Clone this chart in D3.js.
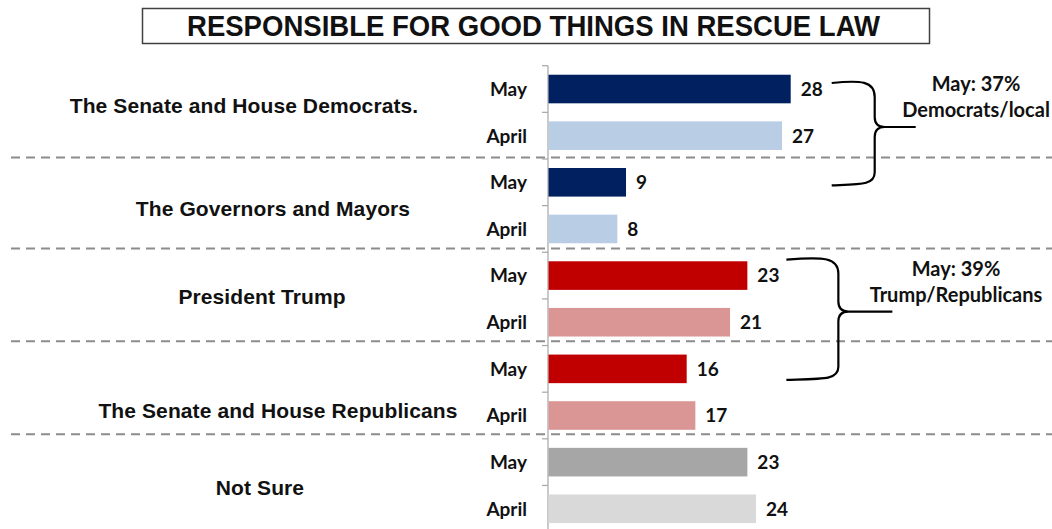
<!DOCTYPE html>
<html>
<head>
<meta charset="utf-8">
<script src="https://cdn.jsdelivr.net/npm/d3@7"></script>
<style>
  html, body { margin: 0; padding: 0; background: #fff; }
  svg { display: block; }
</style>
</head>
<body>
<svg id="chart" width="1052" height="529"></svg>
<script>
// ---------------- data ----------------
const title = "RESPONSIBLE FOR GOOD THINGS IN RESCUE LAW";
const groups = ["The Senate and House Democrats.", "The Governors and Mayors", "President Trump", "The Senate and House Republicans", "Not Sure"];
const periods = ["May", "April"];
const mayValues = [28, 9, 23, 16, 23];
const aprilValues = [27, 8, 21, 17, 24];
const annotationDem = ["May: 37%", "Democrats/local"];
const annotationRep = ["May: 39%", "Trump/Republicans"];

// ---------------- styles / layout ----------------
const mayColors = ["#002060", "#002060", "#C00000", "#C00000", "#A6A6A6"];
const aprilColors = ["#B9CDE5", "#B9CDE5", "#DA9694", "#DA9694", "#D9D9D9"];
const groupLabelLayout = [ {cx: 244, dy: -7}, {cx: 273, dy: 3}, {cx: 262, dy: -2}, {cx: 278, dy: 18}, {cx: 260, dy: 2} ];

const W = 1052, H = 529;
const svg = d3.select("#chart");

// rows: one per group x period
const rows = [];
groups.forEach((g, gi) => {
  rows.push({ key: gi + "-0", group: gi, period: periods[0], value: mayValues[gi], color: mayColors[gi] });
  rows.push({ key: gi + "-1", group: gi, period: periods[1], value: aprilValues[gi], color: aprilColors[gi] });
});

const axisX = 548;
const pxPerUnit = 8.668;
const x = d3.scaleLinear().domain([0, 58]).range([axisX, axisX + 58 * pxPerUnit]);
const y = d3.scaleBand().domain(rows.map(r => r.key)).range([65.7, 65.7 + rows.length * 46.64]).paddingInner(0.387).paddingOuter(0.1935);
const step = y.step();
const y0 = y.range()[0];
const rowCenter = i => y(rows[i].key) + y.bandwidth() / 2;

// ---------------- title ----------------
svg.append("rect")
  .attr("x", 142.5).attr("y", 8.5).attr("width", 787).attr("height", 35)
  .attr("fill", "#fff").attr("stroke", "#404040").attr("stroke-width", 1.5);
svg.append("text")
  .attr("x", 533.5).attr("y", 36)
  .attr("text-anchor", "middle")
  .attr("font-family", "'Liberation Sans Narrow', 'Arial Narrow', 'Liberation Sans', Arial, sans-serif")
  .attr("font-weight", "bold")
  .attr("font-size", 29)
  .attr("textLength", 693).attr("lengthAdjust", "spacingAndGlyphs")
  .attr("fill", "#111")
  .text(title);

// ---------------- separators (dashed) ----------------
const sepOffsets = [-1.5, -3.8, -4.2, -4.5];
for (let g = 1; g < groups.length; g++) {
  const yy = y0 + g * 2 * step + sepOffsets[g - 1];
  svg.append("line")
    .attr("x1", 11).attr("x2", W).attr("y1", yy).attr("y2", yy)
    .attr("stroke", "#8c8c8c").attr("stroke-width", 2)
    .attr("stroke-dasharray", "9,6");
}

// ---------------- axis line + ticks ----------------
svg.append("line")
  .attr("x1", axisX).attr("x2", axisX)
  .attr("y1", y0).attr("y2", H + 5)
  .attr("stroke", "#a6a6a6").attr("stroke-width", 1.2);
d3.range(0, rows.length + 1).forEach(k => {
  const yy = y0 + k * step;
  svg.append("line")
    .attr("x1", axisX - 6).attr("x2", axisX)
    .attr("y1", yy).attr("y2", yy)
    .attr("stroke", "#a6a6a6").attr("stroke-width", 1.2);
});

// ---------------- bars ----------------
svg.selectAll("rect.bar").data(rows).enter().append("rect")
  .attr("class", "bar")
  .attr("x", x(0) + 0.5)
  .attr("y", d => y(d.key))
  .attr("width", d => x(d.value) - x(0) - 0.5)
  .attr("height", y.bandwidth())
  .attr("fill", d => d.color);

// value labels
svg.selectAll("text.val").data(rows).enter().append("text")
  .attr("class", "val")
  .attr("x", d => x(d.value) + 10)
  .attr("y", d => y(d.key) + y.bandwidth() / 2)
  .attr("dy", "0.36em")
  .attr("font-family", "Lato, 'Open Sans', sans-serif")
  .attr("font-weight", "bold")
  .attr("font-size", 19)
  .attr("fill", "#111")
  .text(d => d.value);

// period labels
svg.selectAll("text.per").data(rows).enter().append("text")
  .attr("class", "per")
  .attr("x", 527)
  .attr("y", d => y(d.key) + y.bandwidth() / 2)
  .attr("dy", "0.36em")
  .attr("text-anchor", "end")
  .attr("font-family", "Lato, 'Open Sans', sans-serif")
  .attr("font-weight", "bold")
  .attr("font-size", 19)
  .attr("fill", "#111")
  .text(d => d.period);

// group labels
groups.forEach((g, gi) => {
  const gc = y0 + (2 * gi + 1) * step;
  svg.append("text")
    .attr("x", groupLabelLayout[gi].cx)
    .attr("y", gc + groupLabelLayout[gi].dy)
    .attr("dy", "0.36em")
    .attr("text-anchor", "middle")
    .attr("font-family", "'Liberation Sans', Arial, sans-serif")
    .attr("font-weight", "bold")
    .attr("font-size", 21)
    .attr("letter-spacing", 0.1)
    .attr("fill", "#111")
    .text(g);
});

// ---------------- braces ----------------
function brace(x0, xv, xm, yt, ym, yb) {
  const p = d3.path();
  p.moveTo(x0, yt);
  p.bezierCurveTo(xv - 14, yt - 3, xv, yt - 2, xv, yt + 14);
  p.lineTo(xv, ym - 10);
  p.quadraticCurveTo(xv, ym, xv + 10, ym);
  p.lineTo(xm, ym);
  p.moveTo(xv + 10, ym);
  p.quadraticCurveTo(xv, ym, xv, ym + 10);
  p.lineTo(xv, yb - 12);
  p.bezierCurveTo(xv, yb + 1, xv - 14, yb, x0, yb + 1);
  return p.toString();
}
// Democrats / local brace: spans May rows of groups 0 and 1
svg.append("path")
  .attr("d", brace(x(28) + 41, x(28) + 84, x(28) + 125, rowCenter(0) - 6, rowCenter(0) + 38, rowCenter(2) + 2))
  .attr("fill", "none").attr("stroke", "#000").attr("stroke-width", 2.2);
// Trump / Republicans brace: spans May rows of groups 2 and 3
svg.append("path")
  .attr("d", brace(x(23) + 39, x(23) + 91, x(23) + 145, rowCenter(4) - 16, rowCenter(4) + 36, rowCenter(6) + 10))
  .attr("fill", "none").attr("stroke", "#000").attr("stroke-width", 2.2);

function annot(lines, cx, cy) {
  lines.forEach((t, i) => {
    svg.append("text")
      .attr("x", cx).attr("y", cy + i * 26)
      .attr("dy", "0.36em")
      .attr("text-anchor", "middle")
      .attr("font-family", "Lato, 'Open Sans', sans-serif")
      .attr("font-weight", "bold")
      .attr("font-size", 20)
      .attr("fill", "#111")
      .text(t);
  });
}
annot(annotationDem, 976, 84);
annot(annotationRep, 956, 269);
</script>
</body>
</html>
